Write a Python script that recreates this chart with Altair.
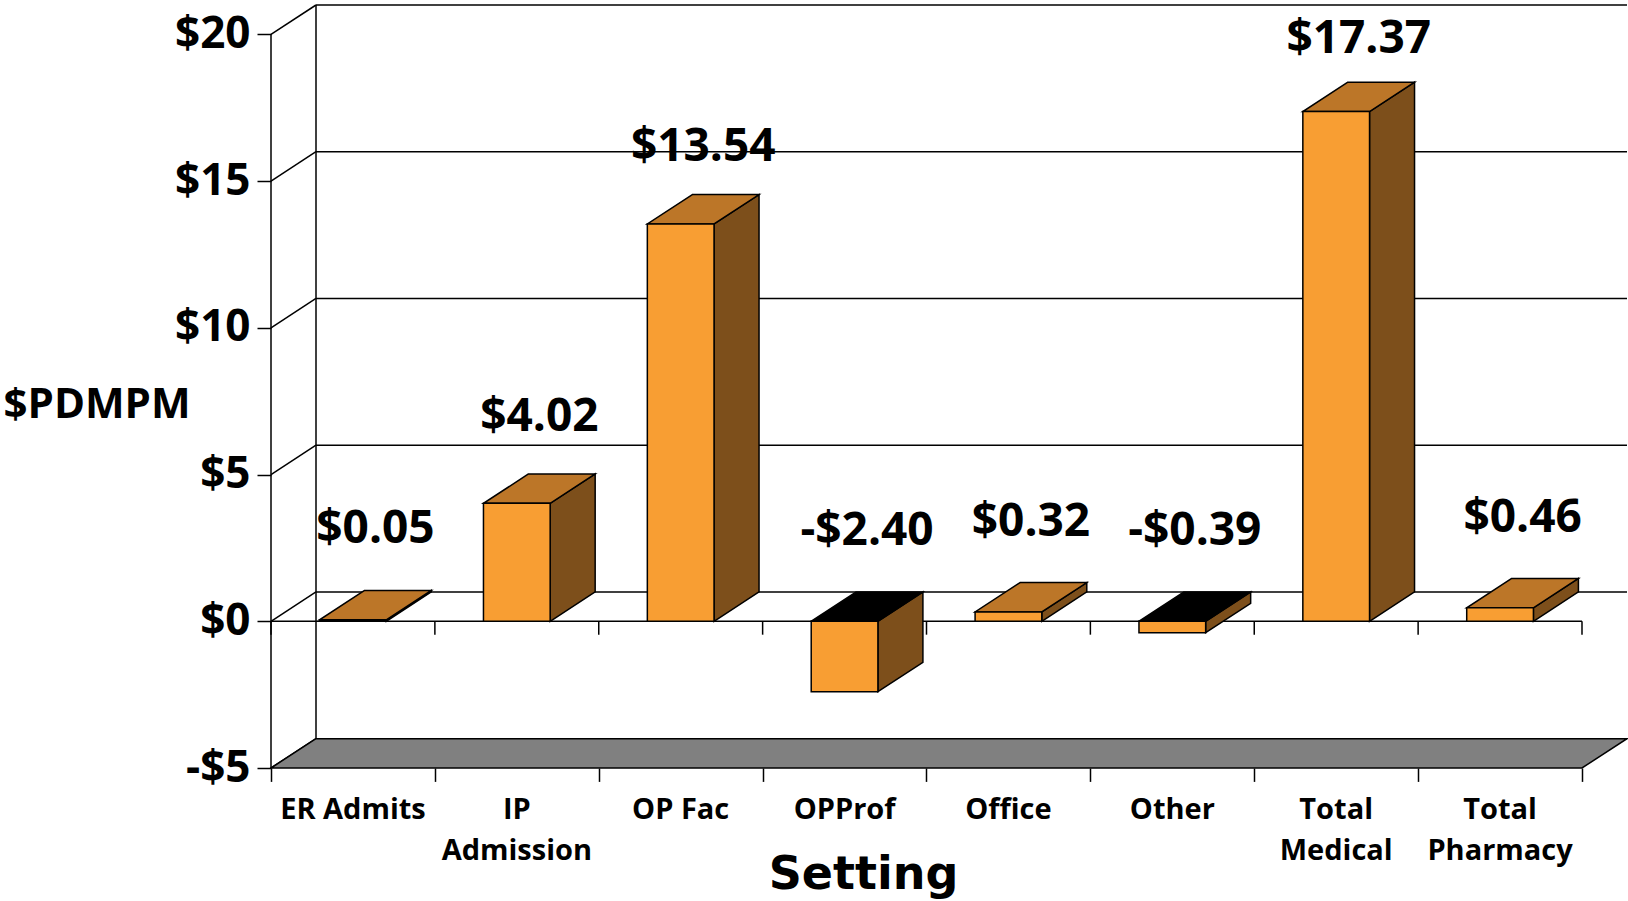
import altair as alt
import pandas as pd

# ---- chart values -------------------------------------------------------
categories = ["ER Admits", "IP\nAdmission", "OP Fac", "OPProf", "Office",
              "Other", "Total\nMedical", "Total\nPharmacy"]
values = [0.05, 4.02, 13.54, -2.40, 0.32, -0.39, 17.37, 0.46]
y_ticks = [-5, 0, 5, 10, 15, 20]

# ---- 3-D look (depth offsets in data units) ------------------------------
N = len(categories)
DX = 0.2746      # depth along x, in category widths
DY = 1.0         # depth along y, in dollars
HALF = 0.2035    # half of a bar's front width
TICK = 0.457     # category tick length below the $0 line
LABEL_GAP = 3.09     # label height above a bar's top
LABEL_SHRINK = 0.035  # tall bars keep their label a little closer
Y_MIN, Y_MAX = y_ticks[0], y_ticks[-1]

FRONT = "#F89E33"
TOP = "#BC7628"
SIDE = "#7D4F1B"
FLOOR = "#808080"
FONT = "Open Sans"


def money(v):
    return f"-${abs(v):.2f}" if v < 0 else f"${v:.2f}"


xs = alt.Scale(domain=[0, N + DX], nice=False, zero=False, padding=0)
ys = alt.Scale(domain=[Y_MIN, Y_MAX + DY], nice=False, zero=False, padding=0)

y_axis = alt.Axis(
    values=y_ticks, grid=False, domain=False, tickSize=14, tickWidth=1.5,
    tickColor="black", labelFont=FONT, labelFontWeight="bold", labelFontSize=44,
    labelColor="black", labelPadding=7,
    labelExpr="datum.value < 0 ? '-$' + abs(datum.value) : '$' + datum.value",
    title="$PDMPM", titleAngle=0, titleFont=FONT, titleFontWeight="bold",
    titleFontSize=42, titleColor="black", titleAlign="left", titleBaseline="middle",
    titleX=-268, titleY=399,
)
x_axis = alt.Axis(
    values=list(range(N + 1)), grid=False, domain=False, labels=False,
    tickSize=13.4, tickWidth=1.5, tickColor="black",
    title="Setting", titleFont="DejaVu Sans", titleFontWeight="bold",
    titleFontSize=46, titleColor="black", titleAlign="center",
    titleBaseline="alphabetic", titleX=592, titleY=120,
)


def X(field, **kw):
    return alt.X(field, scale=xs, axis=x_axis, **kw)


def Y(field, **kw):
    return alt.Y(field, scale=ys, axis=y_axis, **kw)


# bar geometry derived from the values
bars = pd.DataFrame({"cat": categories, "value": values})
bars["i"] = range(N)
bars["x0"] = bars["i"] + 0.5 - HALF
bars["x1"] = bars["i"] + 0.5 + HALF
bars["lo"] = bars["value"].clip(upper=0)
bars["hi"] = bars["value"].clip(lower=0)
bars["label"] = [money(v) for v in values]
bars["lx"] = bars["i"] + 0.5 + DX / 2
bars["ly"] = bars["hi"] * (1 - LABEL_SHRINK) + LABEL_GAP

tops, sides = [], []
for r in bars.itertuples():
    fill = TOP if r.value >= 0 else "#000000"
    tops.append({"bar": r.i, "y": r.hi, "xa": r.x0, "xb": r.x1, "fill": fill})
    tops.append({"bar": r.i, "y": r.hi + DY, "xa": r.x0 + DX, "xb": r.x1 + DX, "fill": fill})
    sides.append({"bar": r.i, "x": r.x1, "ya": r.lo, "yb": r.hi})
    sides.append({"bar": r.i, "x": r.x1 + DX, "ya": r.lo + DY, "yb": r.hi + DY})
tops = pd.DataFrame(tops)
sides = pd.DataFrame(sides)

# walls, gridlines and the front axis lines
lines = []
for v in y_ticks:
    lines.append({"xa": DX, "xb": N + DX, "ya": v + DY, "yb": v + DY})   # back wall grid
    lines.append({"xa": 0, "xb": DX, "ya": v, "yb": v + DY})             # side wall grid
lines.append({"xa": DX, "xb": DX, "ya": Y_MIN + DY, "yb": Y_MAX + DY})   # back wall edge
lines.append({"xa": 0, "xb": 0, "ya": Y_MIN, "yb": Y_MAX})               # front value axis
lines.append({"xa": 0, "xb": N, "ya": 0, "yb": 0})                       # $0 line
for k in range(N + 1):
    lines.append({"xa": k, "xb": k, "ya": 0, "yb": -TICK})
lines = pd.DataFrame(lines)

floor = pd.DataFrame([
    {"y": Y_MIN, "xa": 0, "xb": N},
    {"y": Y_MIN + DY, "xa": DX, "xb": N + DX},
])

cats = pd.DataFrame({"x": [i + 0.5 for i in range(N)], "y": [Y_MIN] * N, "text": categories})

# ---- layers ------------------------------------------------------------
value_labels = alt.Chart(bars).mark_text(
    font=FONT, fontWeight="bold", fontSize=46, color="black",
    align="center", baseline="middle"
).encode(x=X("lx:Q"), y=Y("ly:Q"), text="label:N")

grid = alt.Chart(lines).mark_rule(color="black", strokeWidth=1.5).encode(
    x=X("xa:Q"), x2="xb:Q", y=Y("ya:Q"), y2="yb:Q",
)

floor_layer = alt.Chart(floor).mark_area(
    orient="horizontal", fill=FLOOR, stroke="black", strokeWidth=1.5
).encode(x=X("xa:Q", stack=None), x2="xb:Q", y=Y("y:Q", stack=None))

side_layer = alt.Chart(sides).mark_area(
    orient="vertical", fill=SIDE, stroke="black", strokeWidth=1.5
).encode(
    x=X("x:Q", stack=None), y=Y("ya:Q", stack=None), y2="yb:Q", detail="bar:N",
)

top_layer = alt.Chart(tops).mark_area(
    orient="horizontal", stroke="black", strokeWidth=1.5
).encode(
    x=X("xa:Q", stack=None), x2="xb:Q", y=Y("y:Q", stack=None),
    color=alt.Color("fill:N", scale=None), detail="bar:N",
)

front_layer = alt.Chart(bars).mark_rect(
    fill=FRONT, stroke="black", strokeWidth=1.5
).encode(x=X("x0:Q"), x2="x1:Q", y=Y("lo:Q"), y2="hi:Q")

cat_labels = alt.Chart(cats).mark_text(
    font=FONT, fontWeight="bold", fontSize=29, color="black",
    align="center", baseline="top", dy=28, lineBreak="\n", lineHeight=40.7
).encode(x=X("x:Q"), y=Y("y:Q"), text="text:N")

chart = alt.layer(
    value_labels, grid, floor_layer, side_layer, top_layer, front_layer, cat_labels
).properties(
    width=1356,
    height=763,
    autosize=alt.AutoSizeParams(type="none"),
    padding={"left": 271, "top": 5, "right": 1, "bottom": 133},
    background="white",
).configure_view(stroke=None)

chart.save("out.html", embed_options={"renderer": "svg", "actions": False})
